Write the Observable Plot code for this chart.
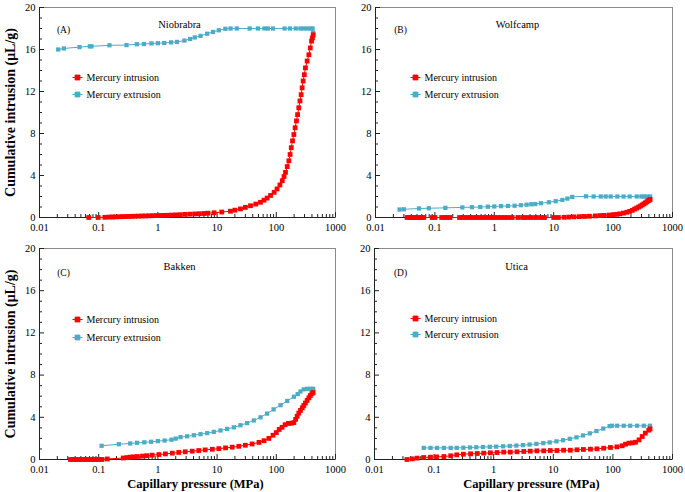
<!DOCTYPE html>
<html><head><meta charset="utf-8">
<script src="https://cdn.jsdelivr.net/npm/d3@7"></script>
<script src="https://cdn.jsdelivr.net/npm/@observablehq/plot@0.6"></script>
<style>
body{margin:0;background:#fff;}
#chart{position:relative;width:685px;height:492px;background:#fff;overflow:hidden;}
#chart .panel{position:absolute;}
</style></head><body><div id="chart"></div>
<script>
// ---- tick labels / text ----
const xTickValues = [0.01, 0.1, 1, 10, 100, 1000];
const xTickLabels = ["0.01", "0.1", "1", "10", "100", "1000"];
const yTickValues = [0, 4, 8, 12, 16, 20];
const yTickLabels = ["0", "4", "8", "12", "16", "20"];
const panelLetters = ["(A)", "(B)", "(C)", "(D)"];
const panelNames = ["Niobrabra", "Wolfcamp", "Bakken", "Utica"];
const seriesNames = ["Mercury intrusion", "Mercury extrusion"];
const xTitle = "Capillary pressure (MPa)";
const yTitle = "Cumulative intrusion (μL/g)";

// ---- (A) Niobrabra ----
const niobrabraIntrusionP = [0.068,0.098,0.127,0.15,0.17,0.19,0.22,0.25,0.28,0.32,0.36,0.41,0.47,0.54,0.62,0.71,0.82,0.94,1.08,1.25,1.45,1.7,2.0,2.4,2.9,3.5,4.2,5.0,6.0,7.0,8.9,12,16.8,20,24.8,30,36.7,45,54,62,70,80,92,103,115,126,135,143,153,163,171,179,188,198,208,219,229,240,251,263,273,284,297,311,332,355,375,394,408,420];
const niobrabraIntrusionV = [0,0,0.02,0.04,0.05,0.06,0.07,0.08,0.09,0.1,0.11,0.12,0.13,0.14,0.15,0.16,0.17,0.18,0.19,0.2,0.21,0.23,0.25,0.27,0.3,0.32,0.34,0.36,0.38,0.41,0.45,0.52,0.6,0.7,0.82,0.96,1.12,1.28,1.45,1.65,1.85,2.1,2.4,2.72,3.1,3.5,3.9,4.3,4.85,5.4,6.0,6.65,7.3,7.9,8.55,9.2,9.8,10.45,11.1,11.7,12.35,13.0,13.6,14.25,14.9,15.5,16.15,16.8,17.1,17.4];
const niobrabraExtrusionP = [420,410,380,333,292,256,213,170,138,88,72,63,49,35.5,21.5,16.9,13.8,10.7,8.5,6.8,5.25,4.2,3.5,2.8,2.1,1.67,1.28,1.0,0.78,0.58,0.44,0.295,0.152,0.0755,0.0708,0.0474,0.0258,0.0207];
const niobrabraExtrusionV = [17.6,18.0,18.0,18.0,18.0,18.0,18.0,18.0,18.0,18.0,18.0,18.0,18.0,18.0,18.0,18.0,17.97,17.83,17.67,17.5,17.3,17.15,17.0,16.85,16.72,16.68,16.62,16.6,16.58,16.52,16.5,16.42,16.4,16.3,16.3,16.23,16.1,16.0];

// ---- (B) Wolfcamp ----
const wolfcampIntrusionP = [0.034,0.037,0.04,0.043,0.047,0.051,0.055,0.06,0.065,0.09,0.1,0.13,0.145,0.16,0.18,0.26,0.29,0.32,0.36,0.4,0.45,0.5,0.56,0.63,0.7,0.8,0.9,1.0,1.15,1.3,1.5,1.7,2.0,2.5,3,3.5,4.2,5,6,7,10,12,15,18,22,27,33,40,50,60,70,85,100,115,130,150,170,190,210,230,250,270,290,310,330,350,370,390,405,420];
const wolfcampIntrusionV = [0,0,0,0,0,0,0,0,0,0,0,0,0,0,0,0,0,0,0,0,0,0,0,0,0,0,0,0,0,0,0,0,0,0,0,0,0,0,0,0,0,0,0.02,0.04,0.06,0.08,0.1,0.12,0.15,0.18,0.2,0.23,0.26,0.3,0.35,0.42,0.5,0.58,0.68,0.8,0.9,1.0,1.1,1.2,1.3,1.4,1.5,1.6,1.65,1.72];
const wolfcampExtrusionP = [420,375,330,300,250,190,150,118,91,75,62,47,35,20.5,17,14,10.8,8.3,6.1,4.9,4.2,3.5,2.8,2.2,1.7,1.3,1.0,0.78,0.58,0.42,0.29,0.15,0.079,0.054,0.03,0.0254];
const wolfcampExtrusionV = [2.0,2.0,2.0,2.0,2.0,2.0,2.0,2.0,2.0,2.0,2.0,2.0,2.02,1.96,1.8,1.67,1.55,1.45,1.36,1.28,1.26,1.22,1.17,1.12,1.1,1.08,1.05,1.03,1.0,0.98,0.96,0.92,0.88,0.86,0.78,0.76];

// ---- (C) Bakken ----
const bakkenIntrusionP = [0.0334,0.037,0.041,0.046,0.051,0.057,0.064,0.072,0.08,0.09,0.1,0.114,0.14,0.26,0.3,0.34,0.38,0.45,0.55,0.65,0.8,1.04,1.34,1.75,2.25,2.9,3.8,4.9,6.3,8.3,10.7,13.9,18,23.3,30,39,51,62,75,88,100,112,125,141,160,180,198,212,225,240,256,275,291,310,332,355,377,400,418];
const bakkenIntrusionV = [0,0,0,0,0,0,0,0,0,0,0,0,0.05,0.14,0.18,0.22,0.25,0.28,0.32,0.36,0.41,0.47,0.53,0.6,0.67,0.73,0.79,0.85,0.91,0.97,1.03,1.1,1.17,1.25,1.35,1.47,1.62,1.78,2.0,2.3,2.55,2.85,3.05,3.3,3.42,3.44,3.5,3.8,4.1,4.4,4.65,4.9,5.12,5.35,5.6,5.85,6.07,6.25,6.35];
const bakkenExtrusionP = [420,380,332,290,256,230,198,153,118,90,70,54,41.7,32.2,24.8,19.2,14.8,11.4,8.8,6.8,5.25,4.05,3.12,2.41,2.0,1.7,1.3,1.0,0.77,0.59,0.445,0.34,0.219,0.112];
const bakkenExtrusionV = [6.7,6.7,6.7,6.65,6.45,6.2,5.95,5.55,5.15,4.75,4.35,4.0,3.7,3.45,3.25,3.05,2.9,2.75,2.62,2.5,2.4,2.3,2.2,2.12,1.98,1.88,1.8,1.74,1.68,1.63,1.58,1.52,1.45,1.3];

// ---- (D) Utica ----
const uticaIntrusionP = [0.035,0.043,0.052,0.067,0.087,0.11,0.146,0.19,0.24,0.31,0.41,0.53,0.68,0.88,1.14,1.47,1.9,2.46,3.2,4.1,5.3,6.9,8.9,11.5,14.9,19.3,25,32,42,54,70,91,117,143,163,186,212,240,275,310,350,400,420];
const uticaIntrusionV = [0,0.06,0.13,0.19,0.22,0.25,0.28,0.35,0.44,0.5,0.54,0.57,0.6,0.63,0.66,0.7,0.7,0.73,0.76,0.79,0.82,0.82,0.85,0.85,0.88,0.88,0.92,0.95,0.98,1.01,1.07,1.14,1.2,1.3,1.45,1.55,1.58,1.64,1.86,2.18,2.5,2.78,2.9];
const uticaExtrusionP = [420,330,255,195,152,118,96,88,69,53,41,31.6,24.5,18.9,14.6,11.3,8.7,6.8,5.2,4.0,3.1,2.4,1.86,1.44,1.1,0.86,0.66,0.51,0.4,0.31,0.24,0.19,0.146,0.112,0.087,0.067];
const uticaExtrusionV = [3.2,3.2,3.2,3.2,3.2,3.2,3.2,3.16,2.93,2.7,2.48,2.28,2.1,1.96,1.83,1.72,1.62,1.55,1.48,1.42,1.36,1.32,1.28,1.25,1.22,1.2,1.18,1.16,1.14,1.12,1.1,1.1,1.1,1.1,1.1,1.1];

const intrusionColor = "#ff0000";
const extrusionColor = "#4bacc6";

const toRows = (P, V) => P.map((p, i) => ({p, v: V[i]}));
const xMinor = [];
for (const d of [0.01, 0.1, 1, 10, 100]) for (let k = 2; k <= 9; k++) xMinor.push(+(d * k).toPrecision(3));
const yMinor = d3.range(0, 21).filter(v => v % 4 !== 0);

const panels = [
  {left: 0, top: 0, width: 342, height: 240, mL: 39, mR: 7, mT: 7, mB: 23, P1: niobrabraIntrusionP, V1: niobrabraIntrusionV, P2: niobrabraExtrusionP, V2: niobrabraExtrusionV, yTitle: true, xTitle: false, lx: 38, ly: 70, ly2: 87, ldx: 24, ldy: 22, lnx: 140, lny: 17},
  {left: 340, top: 0, width: 345, height: 240, mL: 35, mR: 13, mT: 7, mB: 23, P1: wolfcampIntrusionP, V1: wolfcampIntrusionV, P2: wolfcampExtrusionP, V2: wolfcampExtrusionV, yTitle: false, xTitle: false, lx: 40, ly: 70, ly2: 87, ldx: 25, ldy: 22, lnx: 142, lny: 17},
  {left: 0, top: 240, width: 342, height: 252, mL: 39, mR: 7, mT: 8, mB: 33, P1: bakkenIntrusionP, V1: bakkenIntrusionV, P2: bakkenExtrusionP, V2: bakkenExtrusionV, yTitle: true, xTitle: true, lx: 38, ly: 71, ly2: 89, ldx: 24, ldy: 24, lnx: 140, lny: 18},
  {left: 340, top: 240, width: 345, height: 252, mL: 34, mR: 13, mT: 8, mB: 33, P1: uticaIntrusionP, V1: uticaIntrusionV, P2: uticaExtrusionP, V2: uticaExtrusionV, yTitle: false, xTitle: true, lx: 41, ly: 70, ly2: 86, ldx: 26, ldy: 24, lnx: 142, lny: 18}
];

const legendSymbol = {
  draw(ctx) {
    ctx.moveTo(-5, 0); ctx.lineTo(5, 0);
    const s = 2.4;
    ctx.moveTo(-s, -s); ctx.lineTo(s, -s); ctx.lineTo(s, s); ctx.lineTo(-s, s); ctx.closePath();
  }
};

const chart = document.getElementById("chart");
panels.forEach((c, i) => {
  const intr = toRows(c.P1, c.V1);
  const extr = toRows(c.P2, c.V2);
  const marks = [
    Plot.frame({stroke: "#8a8a8a"}),
    Plot.ruleY([0], {stroke: "#222"}),
    Plot.ruleX([0.01], {stroke: "#222"}),
    Plot.axisX({ticks: xTickValues, tickSize: -5, fill: "none", label: null, stroke: "#222"}),
    Plot.axisX({ticks: xMinor, tickSize: -3, fill: "none", label: null, stroke: "#222"}),
    Plot.axisX({ticks: xTickValues, tickSize: 0, tickPadding: 6, label: null, tickFormat: d => xTickLabels[xTickValues.indexOf(d)], fontSize: 10.5}),
    Plot.axisY({ticks: yTickValues, tickSize: -5, fill: "none", label: null, stroke: "#222"}),
    Plot.axisY({ticks: yMinor, tickSize: -3, fill: "none", label: null, stroke: "#222"}),
    Plot.axisY({ticks: yTickValues, tickSize: 0, tickPadding: 4, label: null, tickFormat: d => yTickLabels[yTickValues.indexOf(d)], fontSize: 10.5}),
    Plot.line(extr, {x: "p", y: "v", stroke: extrusionColor, strokeWidth: 1}),
    Plot.dot(extr, {x: "p", y: "v", symbol: "square", r: 2.4, fill: extrusionColor}),
    Plot.line(intr, {x: "p", y: "v", stroke: intrusionColor, strokeWidth: 1}),
    Plot.dot(intr, {x: "p", y: "v", symbol: "square", r: 2.7, fill: intrusionColor}),
    Plot.text([panelLetters[i]], {text: d => d, frameAnchor: "top-left", dx: c.ldx, dy: c.ldy, textAnchor: "middle", lineAnchor: "middle", fontSize: 9.5}),
    Plot.text([panelNames[i]], {text: d => d, frameAnchor: "top-left", dx: c.lnx, dy: c.lny, textAnchor: "middle", lineAnchor: "middle", fontSize: 10.5}),
    Plot.dot([seriesNames[0]], {frameAnchor: "top-left", dx: c.lx, dy: c.ly, symbol: legendSymbol, r: 3, fill: intrusionColor, stroke: intrusionColor, strokeWidth: 1}),
    Plot.dot([seriesNames[1]], {frameAnchor: "top-left", dx: c.lx, dy: c.ly2, symbol: legendSymbol, r: 3, fill: extrusionColor, stroke: extrusionColor, strokeWidth: 1}),
    Plot.text([seriesNames[0]], {text: d => d, frameAnchor: "top-left", dx: c.lx + 9, dy: c.ly, textAnchor: "start", lineAnchor: "middle", fontSize: 10}),
    Plot.text([seriesNames[1]], {text: d => d, frameAnchor: "top-left", dx: c.lx + 9, dy: c.ly2, textAnchor: "start", lineAnchor: "middle", fontSize: 10})
  ];
  if (c.yTitle) marks.push(Plot.text([yTitle], {text: d => d, frameAnchor: "left", dx: -29, rotate: -90, textAnchor: "middle", lineAnchor: "middle", fontSize: 14, fontWeight: "bold"}));
  if (c.xTitle) marks.push(Plot.text([xTitle], {text: d => d, frameAnchor: "bottom", dx: 8, dy: 24, textAnchor: "middle", lineAnchor: "middle", fontSize: 12.5, fontWeight: "bold"}));
  const svg = Plot.plot({
    width: c.width, height: c.height,
    marginLeft: c.mL, marginRight: c.mR, marginTop: c.mT, marginBottom: c.mB,
    style: {fontFamily: "'Liberation Serif', 'Times New Roman', serif", fontSize: "10.5px", background: "transparent", overflow: "visible", color: "#000"},
    x: {type: "log", domain: [0.01, 1000]},
    y: {domain: [0, 20]},
    marks
  });
  const wrap = document.createElement("div");
  wrap.className = "panel";
  wrap.style.left = c.left + "px";
  wrap.style.top = c.top + "px";
  wrap.appendChild(svg);
  chart.appendChild(wrap);
});
</script></body></html>
